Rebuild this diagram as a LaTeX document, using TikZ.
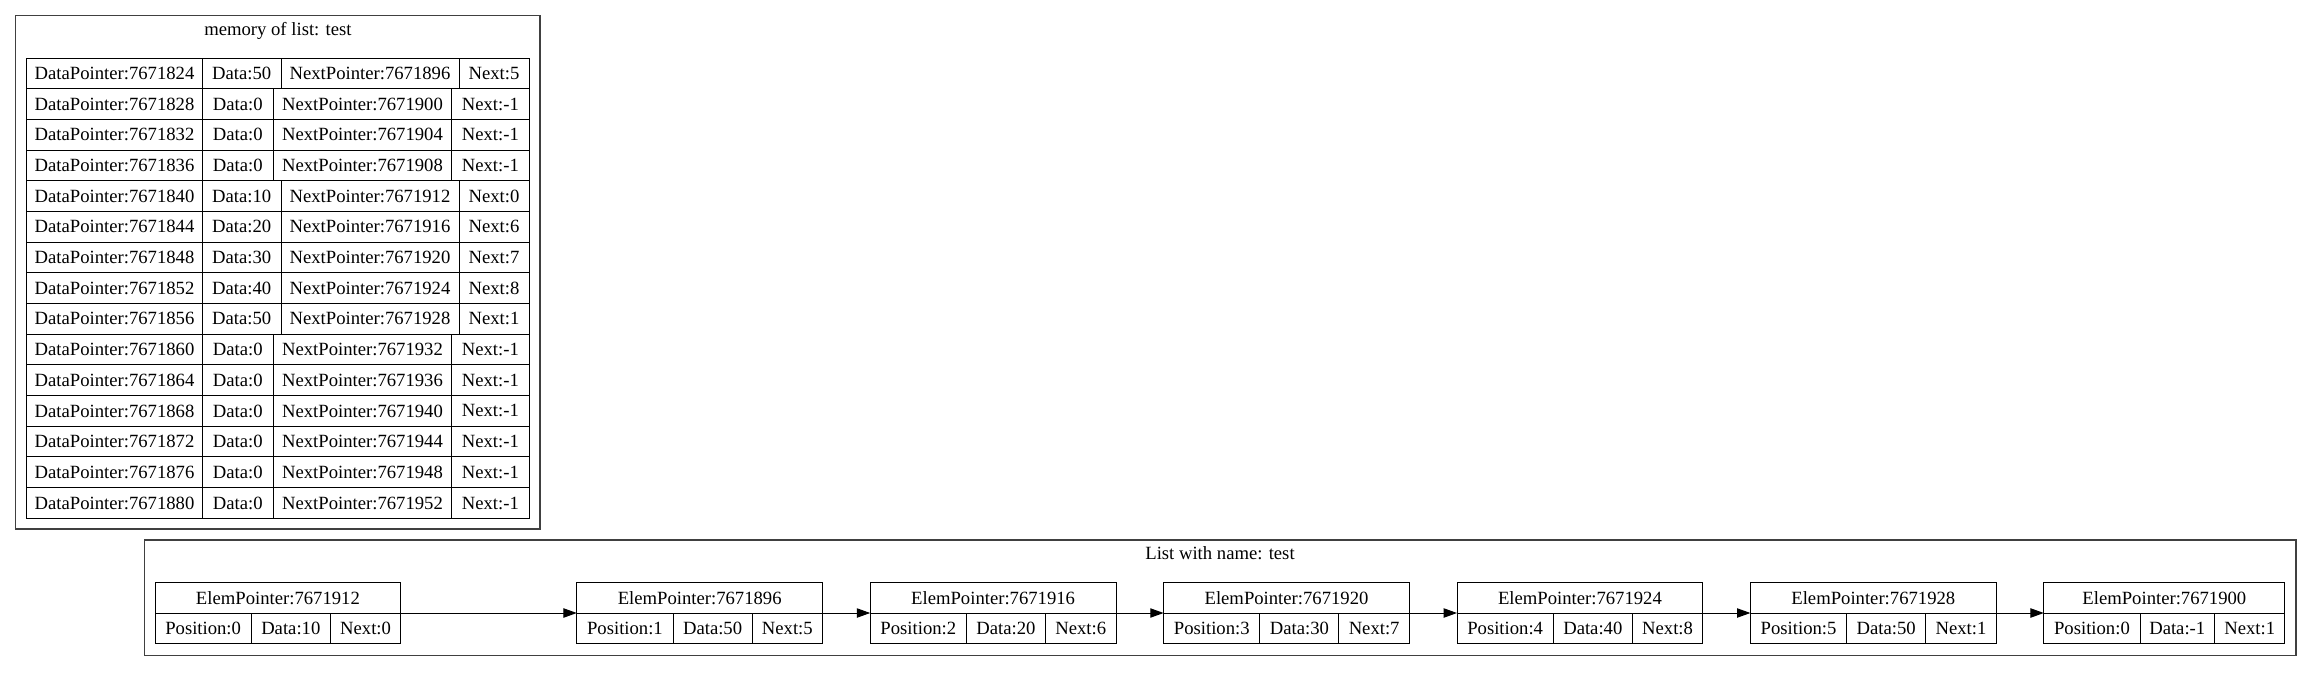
\documentclass[tikz,border=0pt]{standalone}
\usepackage{fontspec}
\setmainfont{Liberation Serif}
\usetikzlibrary{
	positioning,
	arrows.meta
}
\newdimen\px
\px=0.75bp
\tikzset{
	cell/.style={draw, line width=0.75bp, inner sep=0pt, outer sep=0pt, minimum height=30.69\px},
	elemcell/.style={cell, minimum height=30.3\px},
	cluster/.style={draw=black!75, line width=1.1bp, inner sep=0pt, outer sep=0pt, anchor=north west},
	title/.style={anchor=base},
	link/.style={-{Triangle[length=10bp, width=7bp]}, line width=0.75bp}
}

\begin{document}
\begin{tikzpicture}[x=0.75bp, y=-0.75bp, font=\fontsize{14bp}{16bp}\selectfont]
                \useasboundingbox (0,0) rectangle (2312,672);
                \node[cluster, minimum width=524.3\px, minimum height=513.3\px] (memory) at (15.7,15.7) {};
                \node[title] (memtitle) at (277.9,35) {memory of list: test};
                \foreach \i/\d/\n/\xa/\xb in {0/50/5/281/459, 1/0/-1/273.3/451.7, 2/0/-1/273.3/451.7, 3/0/-1/273.3/451.7,
                        4/10/0/281/459, 5/20/6/281/459, 6/30/7/281/459, 7/40/8/281/459, 8/50/1/281/459,
                        9/0/-1/273.3/451.7, 10/0/-1/273.3/451.7, 11/0/-1/273.3/451.7, 12/0/-1/273.3/451.7,
                        13/0/-1/273.3/451.7, 14/0/-1/273.3/451.7} {
                    \node[cell, anchor=north west, minimum width=175.6\px] (m\i a) at (26.7,{58+30.69*\i}) {DataPointer:\the\numexpr7671824+4*\i\relax};
                    \node[cell, anchor=north west, minimum width={(\xa-202.3)*0.75bp}] (m\i b) at (202.3,{58+30.69*\i}) {Data:\d};
                    \node[cell, anchor=north west, minimum width={(\xb-\xa)*0.75bp}] (m\i c) at (\xa,{58+30.69*\i}) {NextPointer:\the\numexpr7671896+4*\i\relax};
                    \node[cell, anchor=north west, minimum width={(529-\xb)*0.75bp}] (m\i d) at (\xb,{58+30.69*\i}) {Next:\n};
                }
                \node[cluster, minimum width=2151.7\px, minimum height=115.7\px] (list) at (144.3,540) {};
                \node[title] (listtitle) at (1220,559.3) {List with name: test};
                \coordinate (x0) at (155,628.15);
                \foreach \k/\ptr/\pos/\dat/\nxt/\dw/\gap in {1/7671912/0/10/0/79/0, 2/7671896/1/50/5/79/176, 3/7671916/2/20/6/79/47.6,
                        4/7671920/3/30/7/79/47.6, 5/7671924/4/40/8/79/47.6, 6/7671928/5/50/1/79/47.6, 7/7671900/0/-1/1/74.3/47.6} {
                    \pgfmathtruncatemacro\prev{\k-1}
                    \node[elemcell, minimum width=96.3\px, right=\gap\px of x\prev] (p\k) {Position:\pos};
                    \node[elemcell, minimum width=\dw\px, right=0pt of p\k] (d\k) {Data:\dat};
                    \node[elemcell, minimum width=70.5\px, right=0pt of d\k] (x\k) {Next:\nxt};
                    \node[elemcell, anchor=south west, minimum width={(166.8+\dw)*0.75bp}] (h\k) at (p\k.north west) {ElemPointer:\ptr};
                }
                \foreach \k in {1,...,6} {
                    \pgfmathtruncatemacro\nk{\k+1}
                    \draw[link] (x\k.north east) -- (p\nk.north west);
                }
            \end{tikzpicture}
\end{document}
